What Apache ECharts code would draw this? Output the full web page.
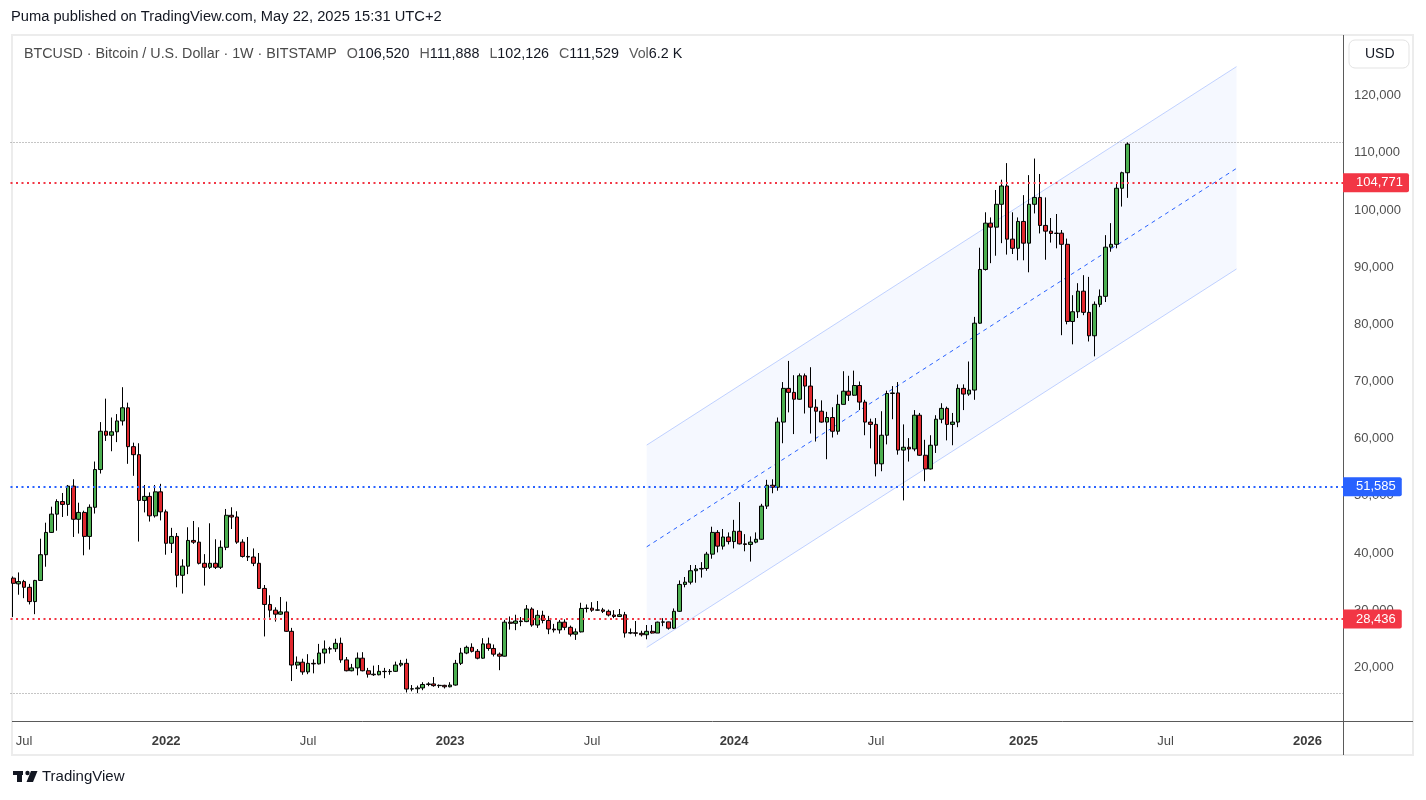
<!DOCTYPE html>
<html>
<head>
<meta charset="utf-8">
<title>BTCUSD weekly</title>
<script src="https://cdn.jsdelivr.net/npm/echarts@6/dist/echarts.min.js"></script>
<style>
  html, body { margin: 0; padding: 0; background: #fff; }
  #chart { width: 1426px; height: 800px; }
</style>
</head>
<body>
<div id="chart"></div>
<script>
  // weekly candles, first bar = week of 2021-06-21
  const firstWeek = Date.UTC(2021, 5, 21);
  const weekCount = 244; // axis runs on into 2026

  const opens = [
    35600, 34600, 35000, 34000, 31500, 35200, 39700, 43600, 46800, 49000,
    48500, 51700, 45900, 47100, 42900, 48000, 54600, 61300, 60600, 61200,
    63100, 65400, 58600, 57200, 49200, 49900, 46500, 50700, 47200, 41700,
    42900, 36100, 37700, 42200, 41900, 38200, 37500, 38200, 37500, 41000,
    46600, 46300, 41900, 39400, 39300, 38200, 33800, 31000, 30000, 29300,
    29700, 26300, 20400, 20900, 19200, 20700, 20600, 22500, 23200, 23250,
    24200, 21300, 19400, 19900, 21600, 19400, 18800, 18700, 19300, 19250,
    19300, 20400, 20700, 16200, 16250, 16400, 17000, 17100, 16800, 16850,
    16600, 16900, 20700, 22500, 23500, 22800, 21600, 24100, 23300, 22300,
    21950, 27900, 27700, 28100, 28000, 30200, 27400, 29100, 28200, 26700,
    26550, 27900, 27000, 25800, 26200, 30300, 30350, 30000, 30050, 29800,
    29150, 28900, 29200, 26000, 26050, 25950, 25700, 26300, 26000, 27900,
    27950, 26850, 29800, 34500, 34900, 36900, 37200, 37300, 39800, 43600,
    41200, 42800, 42000, 43800, 41600, 41500, 41900, 42400, 48200, 51850,
    51500, 62900, 68800, 68100, 66900, 71000, 69200, 65500, 64800, 62900,
    63700, 61300, 66000, 68300, 67600, 69300, 66400, 62900, 62500, 55600,
    60600, 67900, 68000, 58000, 58500, 58200, 64100, 57100, 54700, 58850,
    63400, 65300, 62500, 62900, 68800, 67800, 68500, 80200, 89600, 97700,
    97000, 101000, 104200, 94900, 93300, 98000, 94200, 101000, 102200, 97300,
    96300, 95900, 95950, 94000, 80500, 82200, 85800, 82100, 78000, 83500,
    84900, 93500, 94000, 103800, 106520
  ];
  const highs = [
    35900, 36600, 35300, 34600, 35300, 42500, 45300, 48100, 49400, 50500,
    51900, 52900, 48800, 47400, 48500, 56000, 62900, 67000, 63700, 64300,
    69000, 66300, 59300, 59200, 51900, 50600, 51900, 52100, 47600, 44400,
    43500, 38900, 44500, 45600, 44500, 39800, 45200, 42400, 42200, 47700,
    48000, 47300, 42400, 42800, 40800, 40000, 34400, 32600, 30500, 32300,
    31500, 26900, 21900, 21500, 22300, 21400, 24100, 24700, 23600, 25000,
    25200, 21800, 20600, 22600, 22650, 19900, 20300, 20400, 19900, 19700,
    21000, 21300, 21500, 16900, 16800, 17400, 17400, 18300, 17000, 16950,
    17400, 21300, 23400, 23800, 24200, 23200, 25100, 25200, 24000, 22600,
    28300, 28900, 29200, 28800, 30900, 30500, 30000, 29900, 29000, 27600,
    28300, 28400, 27300, 26800, 31300, 31000, 31400, 31600, 30400, 30100,
    30000, 30200, 29700, 26800, 28100, 26400, 27400, 27400, 28000, 28600,
    28000, 30300, 35200, 35800, 37900, 37900, 38400, 40200, 44600, 44000,
    44200, 43600, 45800, 48900, 43300, 42900, 43600, 48600, 52800, 52900,
    63700, 69900, 73600, 71100, 71400, 71400, 72500, 66900, 66700, 64700,
    65500, 67700, 71800, 71000, 71900, 70000, 66800, 63500, 63600, 64800,
    68400, 69200, 69900, 62500, 60100, 65000, 64500, 59800, 60600, 64100,
    66200, 65600, 64500, 69500, 69500, 73500, 81300, 93400, 99600, 98700,
    103500, 105300, 108200, 99600, 98700, 102600, 106100, 109000, 106300, 102200,
    98600, 99300, 96500, 95000, 85100, 87200, 88600, 88300, 84000, 86100,
    95600, 97700, 104700, 106700, 111888
  ];
  const lows = [
    28800, 32700, 32100, 31000, 29300, 35100, 37600, 43500, 43900, 46300,
    46500, 42800, 43400, 39600, 40600, 46900, 53900, 59600, 57800, 59400,
    62300, 55600, 53500, 42000, 47100, 45500, 46200, 45700, 39700, 40000,
    34000, 32900, 36300, 41600, 38000, 34300, 37200, 37200, 37200, 40500,
    44200, 41600, 39200, 38600, 37700, 33700, 25400, 28700, 28000, 29200,
    26200, 17600, 19700, 18700, 18800, 18950, 20500, 20700, 22400, 22700,
    20800, 19300, 19300, 18600, 19300, 18200, 18500, 18600, 18100, 18700,
    19200, 20100, 15600, 15800, 15476, 16000, 16700, 16600, 16400, 16300,
    16500, 16800, 20400, 22300, 22600, 21400, 21500, 22900, 21900, 19500,
    21900, 26600, 26500, 27200, 27900, 27100, 26900, 27700, 25800, 26100,
    25900, 26500, 25400, 24800, 26100, 29600, 29700, 29900, 29500, 28900,
    28600, 28800, 25200, 25800, 25400, 25400, 24900, 25900, 26000, 27200,
    26600, 26700, 29700, 34000, 34500, 34800, 35700, 36900, 39000, 40100,
    40600, 41500, 40800, 41500, 40300, 38500, 41700, 42300, 47700, 50450,
    50900, 59200, 64600, 60800, 66800, 64400, 60900, 59500, 62800, 56400,
    60200, 60700, 66000, 66600, 67500, 65000, 60600, 58300, 53400, 54300,
    59000, 63400, 57200, 49200, 56000, 57800, 57000, 52550, 54600, 57500,
    62700, 59700, 58850, 62000, 65000, 67500, 66800, 80100, 89400, 90700,
    92000, 94200, 92200, 92300, 91200, 91200, 89100, 99400, 95900, 91300,
    94300, 93300, 78100, 80000, 76500, 81100, 81600, 77000, 74400, 83000,
    83900, 92700, 93300, 100600, 102126
  ];
  const closes = [
    34700, 35000, 34000, 31500, 35200, 39700, 43600, 46800, 49000, 48500,
    51700, 45900, 47100, 42900, 48000, 54600, 61300, 60600, 61200, 63100,
    65400, 58600, 57200, 49200, 49900, 46500, 50700, 47200, 41700, 42900,
    36100, 37700, 42200, 41900, 38200, 37500, 38200, 37500, 41000, 46600,
    46300, 41900, 39400, 39300, 38200, 33800, 31000, 30000, 29300, 29700,
    26300, 20400, 20900, 19200, 20700, 20600, 22500, 23200, 23250, 24200,
    21300, 19400, 19900, 21600, 19400, 18800, 18700, 19300, 19250, 19300,
    20400, 20700, 16200, 16250, 16400, 17000, 17100, 16800, 16850, 16600,
    16900, 20700, 22500, 23500, 22800, 21600, 24100, 23300, 22300, 21950,
    27900, 27700, 28100, 28000, 30200, 27400, 29100, 28200, 26700, 26550,
    27900, 27000, 25800, 26200, 30300, 30350, 30000, 30050, 29800, 29150,
    28900, 29200, 26000, 26050, 25950, 25700, 26300, 26000, 27900, 27950,
    26850, 29800, 34500, 34900, 36900, 37200, 37300, 39800, 43600, 41200,
    42800, 42000, 43800, 41600, 41500, 41900, 42400, 48200, 51850, 51500,
    62900, 68800, 68100, 66900, 71000, 69200, 65500, 64800, 62900, 63700,
    61300, 66000, 68300, 67600, 69300, 66400, 62900, 62500, 55600, 60600,
    67900, 68000, 58000, 58500, 58200, 64100, 57100, 54700, 58850, 63400,
    65300, 62500, 62900, 68800, 67800, 68500, 80200, 89600, 97700, 97000,
    101000, 104200, 94900, 93300, 98000, 94200, 101000, 102200, 97300, 96300,
    95900, 95950, 94000, 80500, 82200, 85800, 82100, 78000, 83500, 84900,
    93500, 94000, 103800, 106520, 111529
  ];

  // regression channel, anchored at two bars
  const channelBars = [116, 224];
  const channelUpper = [58880, 125080];
  const channelMid = [41080, 107280];
  const channelLower = [23480, 89680];

  // horizontal levels
  const redLevels = [104771, 28436];
  const blueLevel = 51585;
  const rangeMarks = [111888, 15476];

  const yTicks = [20000, 30000, 40000, 50000, 60000, 70000, 80000, 90000, 100000, 110000, 120000];

  const weeks = [];
  for (let i = 0; i < weekCount; i++) {
    weeks.push(new Date(firstWeek + i * 7 * 86400000).toISOString().slice(0, 10));
  }

  const candles = opens.map((o, i) => [o, closes[i], lows[i], highs[i]]);
  const pairs = (vals) => channelBars.map((b, i) => [b, vals[i]]);
  const bandWidth = channelUpper.map((v, i) => v - channelLower[i]);

  const fmt = (v) => v.toLocaleString('en-US');
  const FONT = '"Liberation Sans", Arial, sans-serif';

  function levelLine(value, color) {
    return {
      yAxis: value,
      lineStyle: { color: color, type: [2, 3.5], width: 2 },
      label: {
        show: true,
        position: 'end',
        distance: 0,
        formatter: fmt(value),
        color: '#fff',
        fontSize: 13,
        fontFamily: FONT,
        backgroundColor: color,
        borderRadius: [0, 2, 2, 0],
        padding: [3, 6, 3, 13]
      }
    };
  }

  const chart = echarts.init(document.getElementById('chart'));

  const option = {
    animation: false,
    backgroundColor: '#fff',
    grid: { left: 10.5, right: 83, top: 38.5, bottom: 75.5 },
    xAxis: {
      type: 'category',
      data: weeks,
      boundaryGap: true,
      axisLine: { show: false },
      axisTick: { show: false },
      splitLine: { show: false },
      axisLabel: {
        margin: 10,
        fontFamily: FONT,
        fontSize: 13,
        color: '#4a4a4a',
        interval: function (idx, val) {
          const m = +val.slice(5, 7), d = +val.slice(8, 10);
          return (m === 1 || m === 7) && d <= 7;
        },
        formatter: function (val) {
          return val.slice(5, 7) === '01' ? '{y|' + val.slice(0, 4) + '}' : '{m|Jul}';
        },
        rich: {
          y: { fontWeight: 'bold', fontSize: 13, color: '#3c3c3c', fontFamily: FONT },
          m: { fontSize: 13, color: '#4a4a4a', fontFamily: FONT }
        }
      }
    },
    yAxis: {
      type: 'value',
      position: 'right',
      min: 10000,
      max: 130000,
      interval: 10000,
      axisLine: { show: false },
      axisTick: { show: false },
      splitLine: { show: false },
      axisLabel: {
        margin: 11,
        fontFamily: FONT,
        fontSize: 13,
        color: '#505050',
        formatter: (v) => yTicks.includes(v) ? fmt(v) : ''
      }
    },
    series: [
      {
        name: 'chLower',
        type: 'line',
        data: pairs(channelLower),
        stack: 'channel',
        showSymbol: false,
        silent: true,
        z: 1,
        lineStyle: { color: 'rgba(41,98,255,0.28)', width: 1 }
      },
      {
        name: 'chBand',
        type: 'line',
        data: pairs(bandWidth),
        stack: 'channel',
        showSymbol: false,
        silent: true,
        z: 1,
        lineStyle: { color: 'rgba(41,98,255,0.28)', width: 1 },
        areaStyle: { color: 'rgba(41,98,255,0.065)' }
      },
      {
        name: 'chMid',
        type: 'line',
        data: pairs(channelMid),
        showSymbol: false,
        silent: true,
        z: 1,
        lineStyle: { color: '#2962ff', width: 1, type: [4, 4] }
      },
      {
        name: 'BTCUSD',
        type: 'candlestick',
        data: candles,
        barWidth: '76%',
        z: 3,
        itemStyle: {
          color: '#4caf50',
          color0: '#e0282e',
          borderColor: '#000',
          borderColor0: '#000',
          borderWidth: 1
        },
        markLine: {
          silent: true,
          symbol: ['none', 'none'],
          animation: false,
          data: [
            {
              yAxis: rangeMarks[0],
              lineStyle: { color: '#8a8a8a', type: [1, 2], width: 1 },
              label: { show: false }
            },
            {
              yAxis: rangeMarks[1],
              lineStyle: { color: '#8a8a8a', type: [1, 2], width: 1 },
              label: { show: false }
            },
            levelLine(redLevels[0], '#f23645'),
            levelLine(blueLevel, '#2962ff'),
            levelLine(redLevels[1], '#f23645')
          ]
        }
      }
    ],
    graphic: [
      {
        type: 'rect', silent: true, z: -10,
        shape: { x: 12, y: 35, width: 1401, height: 720 },
        style: { fill: 'none', stroke: '#ececec', lineWidth: 2 }
      },
      {
        type: 'line', silent: true, z: 5,
        shape: { x1: 12, y1: 721.5, x2: 1413, y2: 721.5 },
        style: { stroke: '#5a5a5a', lineWidth: 1 }
      },
      {
        type: 'line', silent: true, z: 5,
        shape: { x1: 1343.5, y1: 35, x2: 1343.5, y2: 755 },
        style: { stroke: '#5a5a5a', lineWidth: 1 }
      },
      {
        type: 'rect', silent: true, z: 5,
        shape: { x: 1349, y: 40, width: 60, height: 28, r: 6 },
        style: { fill: '#fff', stroke: '#e3e3e3', lineWidth: 1 }
      },
      {
        type: 'text', silent: true, z: 6,
        style: { x: 1365, y: 54, text: 'USD', fontSize: 14, fontFamily: FONT, fill: '#131722', verticalAlign: 'middle' }
      },
      {
        type: 'text', silent: true, z: 6,
        style: {
          x: 11, y: 17, verticalAlign: 'middle',
          text: 'Puma published on TradingView.com, May 22, 2025 15:31 UTC+2',
          fontSize: 14.7, fontFamily: FONT, fill: '#131722'
        }
      },
      {
        type: 'text', silent: true, z: 6,
        style: {
          x: 24, y: 54, verticalAlign: 'middle',
          text: '{n|BTCUSD · Bitcoin / U.S. Dollar · 1W · BITSTAMP}   {k|O}{v|106,520}   {k|H}{v|111,888}   {k|L}{v|102,126}   {k|C}{v|111,529}   {k|Vol}{v|6.2 K}',
          rich: {
            n: { fontSize: 14.3, fontFamily: FONT, fill: '#4a4a4a' },
            k: { fontSize: 14.3, fontFamily: FONT, fill: '#5a5a5a' },
            v: { fontSize: 14.3, fontFamily: FONT, fill: '#131722' }
          }
        }
      },
      {
        type: 'group', silent: true,
        children: [
          { type: 'rect', shape: { x: 13, y: 771, width: 10, height: 4 }, style: { fill: '#131722' } },
          { type: 'rect', shape: { x: 17, y: 771, width: 5, height: 11 }, style: { fill: '#131722' } },
          { type: 'circle', shape: { cx: 27.5, cy: 773, r: 2.2 }, style: { fill: '#131722' } },
          { type: 'polygon', shape: { points: [[31, 771], [37.5, 771], [33, 782], [26.5, 782]] }, style: { fill: '#131722' } },
          {
            type: 'text',
            style: { x: 42, y: 777, text: 'TradingView', fontSize: 15, fontFamily: FONT, fill: '#131722', verticalAlign: 'middle' }
          }
        ]
      }
    ]
  };

  chart.setOption(option);
</script>
</body>
</html>
